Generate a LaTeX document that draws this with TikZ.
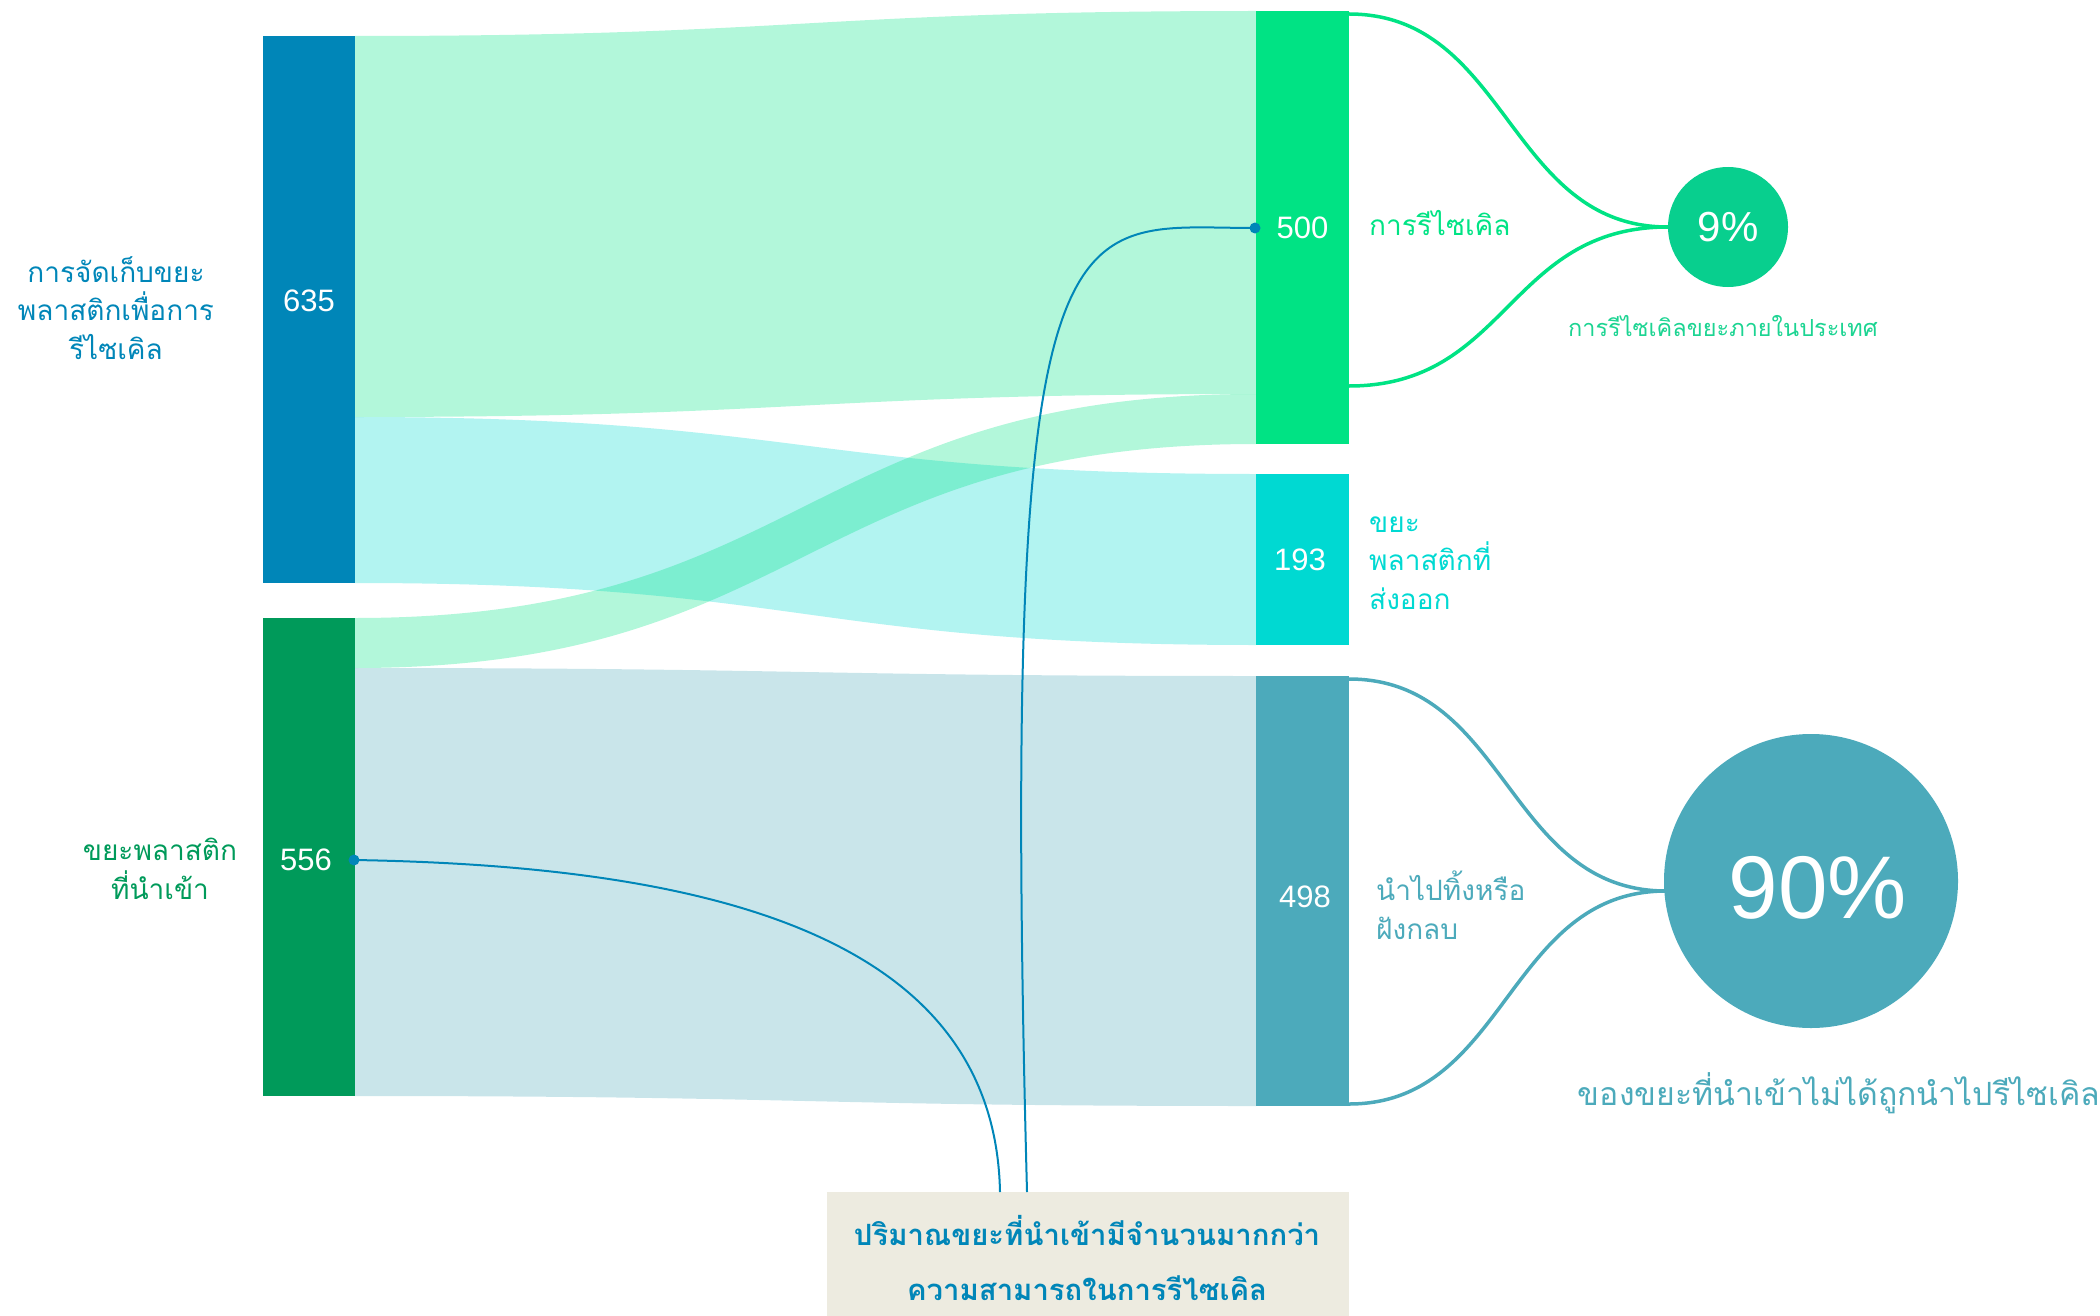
\documentclass[tikz,border=0pt]{standalone}
\usepackage{fontspec}
\setmainfont{Liberation Sans}
\newfontfamily\thai[Script=Thai]{Loma}
\definecolor{cSrcA}{HTML}{0086B8}
\definecolor{cSrcB}{HTML}{009A5A}
\definecolor{cRec}{HTML}{00E384}
\definecolor{cExp}{HTML}{00D9D2}
\definecolor{cLand}{HTML}{4CAABB}
\definecolor{cNine}{HTML}{08CF8E}
\definecolor{cNineTxt}{HTML}{1CD492}
\definecolor{cNote}{HTML}{0086B8}
\definecolor{cBox}{HTML}{EDEBE0}
\tikzset{
  bar/.style={rectangle, inner sep=0pt, outer sep=0pt, minimum width=92pt},
  num/.style={inner sep=0pt, text=white, font=\fontsize{31}{31}\selectfont},
  band/.style={opacity=0.3},
  lab/.style={inner sep=0pt, font=\thai\fontsize{28}{38.5}\selectfont},
  sidelab/.style={lab, anchor=west, align=left},
  fan/.style={line width=3.5pt},
  note/.style={draw=cNote, line width=2pt},
  notedot/.style={circle, fill=cNote, inner sep=0pt, minimum size=11pt},
  pct/.style={circle, inner sep=0pt, text=white}
}
\begin{document}
\begin{tikzpicture}[x=1pt,y=-1pt]
\useasboundingbox (0,0) rectangle (2100,1316);

% bars
\node[bar, fill=cSrcA, minimum height=547pt] (srcA) at (309,309.5) {};
\node[bar, fill=cSrcB, minimum height=478pt] (srcB) at (309,857) {};
\node[bar, fill=cRec, minimum width=93pt, minimum height=433pt] (rec) at (1302.5,227.5) {};
\node[bar, fill=cExp, minimum width=93pt, minimum height=171pt] (exp) at (1302.5,559.5) {};
\node[bar, fill=cLand, minimum width=93pt, minimum height=430pt] (land) at (1302.5,891) {};
\node[num] (nA) at (309,301) {635};
\node[num] (nB) at (306,860) {556};
\node[num] (nRec) at (1302.5,228) {500};
\node[num] (nExp) at (1300,560) {193};
\node[num] (nLand) at (1305,897) {498};

% split points
\coordinate (aSplit) at (355,417);
\coordinate (bSplit) at (355,668);
\coordinate (rSplit) at (1256,394);

% bands
\fill[band, cRec] (srcA.north east) .. controls (805,36) and (805,11) .. (rec.north west)
  -- (rSplit) .. controls (805,394) and (805,417) .. (aSplit) -- cycle;
\fill[band, cExp] (aSplit) .. controls (805,417) and (805,474) .. (exp.north west)
  -- (exp.south west) .. controls (805,645) and (805,583) .. (srcA.south east) -- cycle;
\fill[band, cRec] (srcB.north east) .. controls (805,618) and (805,394) .. (rSplit)
  -- (rec.south west) .. controls (805,444) and (805,668) .. (bSplit) -- cycle;
\fill[band, cLand] (bSplit) .. controls (805,668) and (805,676) .. (land.north west)
  -- (land.south west) .. controls (805,1106) and (805,1096) .. (srcB.south east) -- cycle;

% circles
\node[pct, fill=cNine, minimum size=120pt, font=\fontsize{42}{42}\selectfont] (nine) at (1728,227) {9\%};
\node[pct, fill=cLand, minimum size=294pt] (ninety) at (1811,881) {};
\node[inner sep=0pt, text=white, font=\fontsize{89}{89}\selectfont] (ninetyTxt) at (1818,888) {90\%};

% fans
\coordinate (recTop) at (1349,14);
\coordinate (recLow) at (1349,386);
\coordinate (landTop) at (1349,679);
\coordinate (landLow) at (1349,1104);
\coordinate (ninetyIn) at (1666,891);
\draw[fan, cRec] (recTop) .. controls (1508,14) and (1508,227) .. (nine.west);
\draw[fan, cRec] (recLow) .. controls (1508,386) and (1508,227) .. (nine.west);
\draw[fan, cLand] (landTop) .. controls (1507,679) and (1507,891) .. (ninetyIn);
\draw[fan, cLand] (landLow) .. controls (1507,1104) and (1507,891) .. (ninetyIn);

% labels
\node[lab, text=cSrcA, align=center] (labA) at (116,308) {การจัดเก็บขยะ\\พลาสติกเพื่อการ\\รีไซเคิล};
\node[lab, text=cSrcB, align=center] (labB) at (160,869) {ขยะพลาสติก\\ที่นำเข้า};
\node[sidelab, text=cRec] (labRec) at (1369,223) {การรีไซเคิล};
\node[sidelab, text=cExp] (labExp) at (1369,563) {ขยะ\\พลาสติกที่\\ส่งออก};
\node[sidelab, text=cLand] (labLand) at (1376,905) {นำไปทิ้งหรือ\\ฝังกลบ};
\node[lab, text=cNineTxt, font=\thai\fontsize{23.5}{23.5}\selectfont] (labNine) at (1723,326) {การรีไซเคิลขยะภายในประเทศ};
\node[lab, text=cLand, font=\thai\fontsize{32}{32}\selectfont] (labNinety) at (1839,1093) {ของขยะที่นำเข้าไม่ได้ถูกนำไปรีไซเคิล};

% note box
\node[rectangle, fill=cBox, inner sep=0pt, minimum width=522pt, minimum height=124pt] (box) at (1088,1254) {};
\node[lab, text=cNote, align=center, font=\thai\bfseries\fontsize{29.3}{55}\selectfont] (boxText) at (1087,1258) {ปริมาณขยะที่นำเข้ามีจำนวนมากกว่า\\ความสามารถในการรีไซเคิล};

% annotation lines
\node[notedot] (dotRec) at (1255,228) {};
\node[notedot] (dotB) at (354,860) {};
\coordinate (boxL) at (1000,1192);
\coordinate (boxR) at (1027,1192);
\draw[note] (boxR) .. controls (1000,170) and (1065,228) .. (dotRec.center);
\draw[note] (boxL) .. controls (995,940) and (720,866) .. (dotB.center);
\end{tikzpicture}
\end{document}
